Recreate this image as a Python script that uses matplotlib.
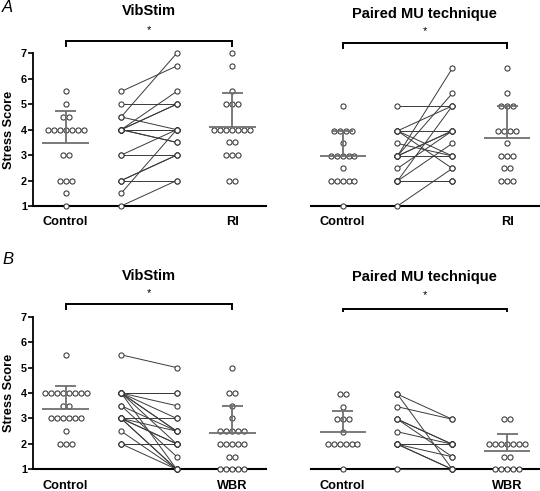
import matplotlib
matplotlib.use("Agg")
import matplotlib.pyplot as plt
from collections import Counter

plt.rcParams['font.family'] = ['Liberation Sans', 'DejaVu Sans']

# ---------------- data ----------------
# Panel A, VibStim
a1_control = [5.5, 5, 4.5, 4.5, 4, 4, 4, 4, 4, 4, 4, 3, 3, 2, 2, 2, 1.5, 1]
a1_ri = [7, 6.5, 5.5, 5, 5, 5, 4, 4, 4, 4, 4, 4, 4, 3.5, 3.5, 3, 3, 3, 2, 2]
a1_pre = [5.5, 5, 4.5, 4.5, 4, 4, 4, 4, 4, 4, 4, 3, 3, 2, 2, 2, 1.5, 1]
a1_post = [6.5, 5, 7, 4, 5.5, 5, 5, 4, 4, 3.5, 3.5, 4, 3, 3, 2, 3, 4, 2]
a1_mean = [3.47, 4.10]
a1_sdtop = [4.72, 5.43]

# Panel A, Paired MU technique
a2_control = [5, 4, 4, 4, 4, 3.5, 3, 3, 3, 3, 3, 2.5, 2, 2, 2, 2, 2, 1]
a2_ri = [6.5, 5.5, 5, 5, 5, 4, 4, 4, 4, 3.5, 3, 3, 3, 2.5, 2.5, 2, 2, 2]
a2_pre = [5, 4, 4, 4, 4, 3.5, 3, 3, 3, 3, 3, 2.5, 2, 2, 2, 2, 2, 1]
a2_post = [5, 5, 4, 3, 2.5, 3, 6.5, 5.5, 4, 3, 4, 4, 5, 3.5, 2, 2, 2, 2.5]
a2_mean = [3.0, 3.70]
a2_sdtop = [4.0, 5.0]

# Panel B, VibStim
b1_control = [5.5, 4, 4, 4, 4, 4, 4, 4, 4, 3.5, 3.5, 3, 3, 3, 3, 3, 3, 2.5, 2, 2, 2]
b1_wbr = [5, 4, 4, 3.5, 3, 2.5, 2.5, 2.5, 2.5, 2.5, 2, 2, 2, 2, 2, 1.5, 1.5, 1, 1, 1, 1, 1]
b1_pre = [5.5, 4, 4, 4, 4, 4, 4, 4, 4, 3.5, 3.5, 3, 3, 3, 3, 3, 3, 2.5, 2, 2, 2]
b1_post = [5, 4, 4, 3.5, 3, 2.5, 1, 2, 2.5, 1.5, 2.5, 3, 2.5, 2, 1, 1, 2, 1, 2, 2, 1]
b1_mean = [3.37, 2.42]
b1_sdtop = [4.28, 3.50]

# Panel B, Paired MU technique
b2_control = [4, 4, 3.5, 3, 3, 3, 2.5, 2, 2, 2, 2, 2, 2, 1]
b2_wbr = [3, 3, 2, 2, 2, 2, 2, 2, 2, 1.5, 1.5, 1, 1, 1, 1, 1]
b2_pre = [4, 4, 3.5, 3, 3, 3, 2.5, 2, 2, 2, 2, 2, 2, 1]
b2_post = [3, 1, 3, 2, 2, 1.5, 2, 2, 2, 1, 1.5, 2, 1, 1]
b2_mean = [2.51, 1.75]
b2_sdtop = [3.35, 2.41]

titles = ["VibStim", "Paired MU technique", "VibStim", "Paired MU technique"]
cond_labels = [["Control", "RI"], ["Control", "RI"], ["Control", "WBR"], ["Control", "WBR"]]
yticks = [1, 2, 3, 4, 5, 6, 7]
ylabel = "Stress Score"
sig_text = "*"

# ---------------- drawing ----------------
W, H = 540, 491
fig = plt.figure(figsize=(W / 100, H / 100), dpi=100)

def px_ax(x0, x1, ybot, ytop):
    return [x0 / W, 1 - ybot / H, (x1 - x0) / W, (ybot - ytop) / H]

MK = dict(marker='o', ms=3.7, mfc='white', mec='#333333', mew=0.75, ls='none',
          zorder=5, clip_on=False)
BARC = '#6f6f6f'
SPACING = 0.108
XL, XR = -0.583, 3.6

def swarm(ax, xc, vals):
    cnt = Counter(vals)
    xs, ys = [], []
    for v, k in cnt.items():
        for i in range(k):
            xs.append(xc + (i - (k - 1) / 2) * SPACING)
            ys.append(v)
    ax.plot(xs, ys, **MK)

def meanbar(ax, xc, m, top):
    kw = dict(color=BARC, lw=1.3, zorder=6, solid_capstyle='butt', clip_on=False)
    ax.plot([xc - 0.42, xc + 0.42], [m, m], **kw)
    ax.plot([xc, xc], [m, top], **kw)
    ax.plot([xc - 0.19, xc + 0.19], [top, top], **kw)

def panel(rect, ylim_top, control, other, pre, post, means, tops, labels, show_y,
          brk_y, brk_tick, title, title_y, star_y):
    ax = fig.add_axes(rect)
    ax.set_xlim(XL, XR)
    ax.set_ylim(1, ylim_top)
    for a, b in zip(pre, post):
        ax.plot([1, 2], [a, b], color='#3a3a3a', lw=0.7, zorder=4, clip_on=False)
    ax.plot([1] * len(pre), pre, **MK)
    ax.plot([2] * len(post), post, **MK)
    swarm(ax, 0, control)
    swarm(ax, 3, other)
    meanbar(ax, 0, means[0], tops[0])
    meanbar(ax, 3, means[1], tops[1])
    ax.set_xticks([0, 3])
    ax.set_xticklabels(labels, fontsize=9.2, fontweight='bold')
    ax.tick_params(axis='x', length=0, pad=7.5)
    for s in ['top', 'right']:
        ax.spines[s].set_visible(False)
    ax.spines['bottom'].set_linewidth(1.5)
    ax.spines['bottom'].set_zorder(3)
    if show_y:
        ax.spines['left'].set_linewidth(1.3)
        ax.set_yticks(yticks)
        ax.set_yticklabels([str(t) for t in yticks], fontsize=7.8, fontweight='bold')
        ax.tick_params(axis='y', length=3.5, width=1.2, pad=1)
        ax.set_ylabel(ylabel, fontsize=9.2, fontweight='bold', labelpad=4)
    else:
        ax.spines['left'].set_visible(False)
        ax.set_yticks([])
    ax.plot([0, 0, 3, 3], [brk_tick, brk_y, brk_y, brk_tick], color='black', lw=1.4,
            clip_on=False, solid_joinstyle='miter')
    # centre between the two condition columns, in figure pixels
    xmid = rect[0] * W + (1.5 - XL) / (XR - XL) * rect[2] * W
    fig.text(xmid / W, 1 - star_y / H, sig_text, ha='center', va='center', fontsize=8)
    fig.text(xmid / W, 1 - title_y / H, title, ha='center', va='center',
             fontsize=10.5, fontweight='bold')
    return ax

# Panel A
panel(px_ax(33.3, 265.5, 206, 53.3), 7, a1_control, a1_ri, a1_pre, a1_post, a1_mean, a1_sdtop,
      cond_labels[0], True, 7.5, 7.3, titles[0], 11, 30)
panel(px_ax(310.7, 540, 206, 53.3), 7.1, a2_control, a2_ri, a2_pre, a2_post, a2_mean, a2_sdtop,
      cond_labels[1], False, 7.5, 7.3, titles[1], 14, 31)
# Panel B
panel(px_ax(33.3, 265.5, 469.3, 316.7), 7, b1_control, b1_wbr, b1_pre, b1_post, b1_mean, b1_sdtop,
      cond_labels[2], True, 7.5, 7.3, titles[2], 276, 293)
panel(px_ax(310.7, 540, 469.3, 316.7), 7.1, b2_control, b2_wbr, b2_pre, b2_post, b2_mean, b2_sdtop,
      cond_labels[3], False, 7.42, 7.32, titles[3], 277.5, 295)

fig.text(2 / W, 1 - 8 / H, "A", fontsize=12, style='italic', ha='left', va='center')
fig.text(2 / W, 1 - 260 / H, "B", fontsize=12, style='italic', ha='left', va='center')

fig.savefig("out.png", dpi=100)
